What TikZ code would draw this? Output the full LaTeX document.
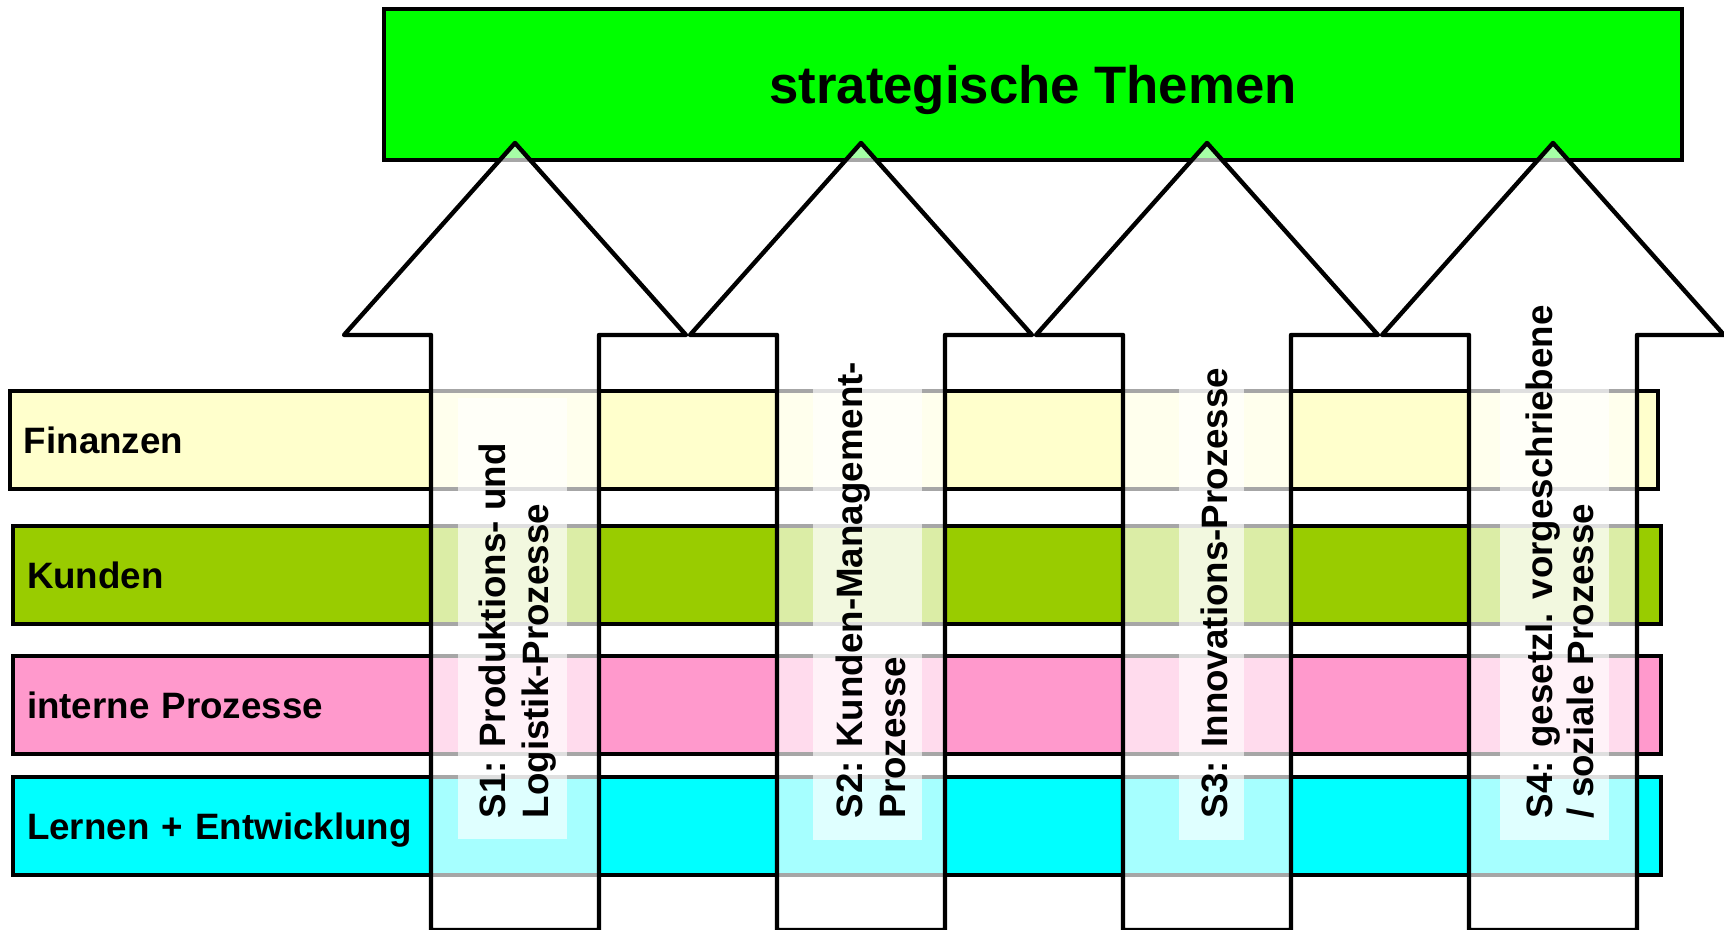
\documentclass[tikz,border=0pt]{standalone}
\usepackage{fontspec}
\setmainfont{Liberation Sans}
\usepackage{tkz-euclide}
\definecolor{ThemeClr}{rgb}{0,1,0}
\definecolor{FinClr}{rgb}{1,1,0.8}
\definecolor{KundClr}{rgb}{0.6,0.8,0}
\definecolor{ProzClr}{rgb}{1,0.6,0.8}
\definecolor{LernClr}{rgb}{0,1,1}

\begin{document}
\begin{tikzpicture}[
  bar/.style={draw,line width=1.2pt,minimum height=0.98cm,anchor=south west,
    outer sep=0pt,inner xsep=0.14cm,text width=16.2cm,align=left,
    text height=9.6pt,text depth=2.1pt,font=\bfseries\fontsize{10.45}{12}\selectfont},
  txt/.style={rotate=90,anchor=base west,inner sep=0pt,
    font=\bfseries\fontsize{10.45}{12}\selectfont},
  tbox/.style={fill=white,fill opacity=.65}]
\useasboundingbox (0,0) rectangle (17.24,9.30);
\tkzSetUpLine[line width=1.25pt,color=black]

% Perspektiven
\node[bar,fill=FinClr] (fin) at (0.10,4.41) {Finanzen};
\node[bar,fill=KundClr] (kund) at (0.13,3.06) {Kunden};
\node[bar,fill=ProzClr] (proz) at (0.13,1.76) {interne Prozesse};
\node[bar,fill=LernClr] (lern) at (0.13,0.55) {Lernen + Entwicklung};

\node[draw,line width=1.2pt,fill=ThemeClr,minimum width=12.98cm,minimum height=1.51cm,
  anchor=north west,outer sep=0pt,text depth=0pt,
  font=\bfseries\fontsize{15}{18}\selectfont] (themen) at (3.84,9.21) {strategische Themen};

\tkzDefPoints{4.31/0/A1,4.31/5.95/A2,3.44/5.95/A3,5.15/7.87/A4,6.86/5.95/A5,5.99/5.95/A6,5.99/0/A7}
\tkzDefPoints{7.77/0/B1,7.77/5.95/B2,6.90/5.95/B3,8.61/7.87/B4,10.32/5.95/B5,9.45/5.95/B6,9.45/0/B7}
\tkzDefPoints{11.23/0/C1,11.23/5.95/C2,10.36/5.95/C3,12.07/7.87/C4,13.78/5.95/C5,12.91/5.95/C6,12.91/0/C7}
\tkzDefPoints{14.69/0/D1,14.69/5.95/D2,13.82/5.95/D3,15.53/7.87/D4,17.24/5.95/D5,16.37/5.95/D6,16.37/0/D7}

% Pfeile
\tkzFillPolygon[tbox](A1,A2,A3,A4,A5,A6,A7)
\tkzDrawPolygon(A1,A2,A3,A4,A5,A6,A7)
\tkzFillPolygon[tbox](B1,B2,B3,B4,B5,B6,B7)
\tkzDrawPolygon(B1,B2,B3,B4,B5,B6,B7)
\tkzFillPolygon[tbox](C1,C2,C3,C4,C5,C6,C7)
\tkzDrawPolygon(C1,C2,C3,C4,C5,C6,C7)
\tkzFillPolygon[tbox](D1,D2,D3,D4,D5,D6,D7)
\tkzDrawPolygon(D1,D2,D3,D4,D5,D6,D7)

\fill[tbox] (4.58,0.91) rectangle (5.67,5.32);
\fill[tbox] (8.13,0.90) rectangle (9.22,6.10);
\fill[tbox] (11.79,0.90) rectangle (12.44,6.10);
\fill[tbox] (15.00,0.90) rectangle (16.09,6.70);

\node[txt] (s1a) at (5.05,1.11) {S1: Produktions- und};
\node[txt] (s1b) at (5.48,1.11) {Logistik-Prozesse};
\node[txt] (s2a) at (8.62,1.11) {S2: Kunden-Management-};
\node[txt] (s2b) at (9.05,1.11) {Prozesse};
\node[txt] (s3a) at (12.27,1.11) {S3: Innovations-Prozesse};
\node[txt] (s4a) at (15.52,1.11) {S4: gesetzl. vorgeschriebene};
\node[txt] (s4b) at (15.93,1.11) {/ soziale Prozesse};

\end{tikzpicture}
\end{document}
